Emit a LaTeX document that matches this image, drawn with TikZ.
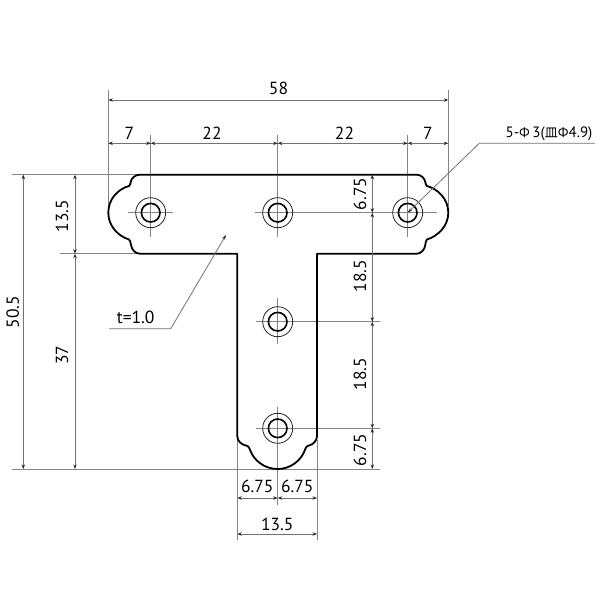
\documentclass[tikz,border=0pt]{standalone}
\usepackage{fontspec}
\setmainfont{PT Sans}
\newfontfamily\cjkfont{Noto Sans CJK SC}
\newfontfamily\phifont{Open Sans}
\usetikzlibrary{arrows.meta}
\tikzset{
  part/.style={line width=1.8pt,black,line join=round},
  bore/.style={line width=1.6pt,black},
  rim/.style={line width=0.8pt,black!85},
  guide/.style={line width=0.95pt,black!48},
  dimline/.style={line width=0.8pt,black!55,{Stealth[length=4.5pt,width=3.4pt,black!85]}-{Stealth[length=4.5pt,width=3.4pt,black!85]}},
  leader/.style={line width=0.8pt,black!55},
  lab/.style={inner sep=0pt,font=\fontsize{17.5}{17.5}\selectfont,text=black},
  vlab/.style={lab,rotate=90}
}
\begin{document}
\begin{tikzpicture}[x=1pt,y=-1pt]
\useasboundingbox (0,0) rectangle (600,600);
\fill[white] (0,0) rectangle (600,600);
% named reference points
\coordinate (hA) at (150.7,212.7);
\coordinate (hB) at (277.7,212.7);
\coordinate (hC) at (407.7,212.7);
\coordinate (hD) at (277.7,321.7);
\coordinate (hE) at (277.7,428.3);
% extension lines
\draw[guide] (108.3,90) -- (108.3,206);
\draw[guide] (448.3,90) -- (448.3,206);
\draw[guide] (11.7,174.7) -- (140,174.7);
\draw[guide] (60,253.7) -- (140,253.7);
\draw[guide] (11.7,469) -- (380,469);
\draw[guide] (237.3,440) -- (237.3,540);
\draw[guide] (317,440) -- (317,540);
% centre lines
\draw[guide] (150.7,135) -- (150.7,237);
\draw[guide] (128.3,212.7) -- (173,212.7);
\draw[guide] (277.7,135) -- (277.7,237);
\draw[guide] (255,212.7) -- (383,212.7);
\draw[guide] (407.7,135) -- (407.7,237);
\draw[guide] (383,212.7) -- (437,212.7);
\draw[guide] (277.7,298) -- (277.7,344);
\draw[guide] (256,321.7) -- (380,321.7);
\draw[guide] (277.7,406.7) -- (277.7,505);
\draw[guide] (256,428.3) -- (380,428.3);
% outline
\draw[part] (140,174.7) -- (416.7,174.7)
  .. controls (421,174.7) and (424.5,178) .. (425.3,182)
  .. controls (425.6,184) and (426,185) .. (427,186)
  .. controls (438,189) and (448.3,199) .. (448.3,212.7)
  .. controls (448.3,226) and (438,236) .. (427,239.5)
  .. controls (426,240.5) and (425.6,242) .. (425.3,245)
  .. controls (424.5,250) and (421,253.7) .. (416.7,253.7)
  -- (317,253.7) -- (317,436)
  .. controls (317,441) and (313,444.5) .. (309,445.5)
  .. controls (307,446) and (306,447) .. (305.5,448.5)
  .. controls (301.5,461) and (290,469) .. (277.7,469)
  .. controls (265,469) and (253.5,461) .. (249.5,448.5)
  .. controls (249,447) and (248,446) .. (246,445.5)
  .. controls (241,444.5) and (237.3,441) .. (237.3,436)
  -- (237.3,253.7) -- (140,253.7)
  .. controls (135.5,253.7) and (131.8,250) .. (131,245)
  .. controls (130.7,242) and (130,240.5) .. (129,239.5)
  .. controls (118,236) and (108.3,226) .. (108.3,212.7)
  .. controls (108.3,199) and (118,189) .. (129,186)
  .. controls (130,185) and (130.4,184) .. (130.7,182)
  .. controls (131.5,178) and (135,174.7) .. cycle;
% holes
\foreach \h in {hA,hB,hC,hD,hE}{
  \draw[rim] (\h) circle (15);
  \draw[bore] (\h) circle (9.3);
}
% dimensions: top
\draw[dimline] (108.3,100) -- (448.3,100);
\draw[dimline] (108.3,143.3) -- (150.7,143.3);
\draw[dimline] (150.7,143.3) -- (277.7,143.3);
\draw[dimline] (277.7,143.3) -- (407.7,143.3);
\draw[dimline] (407.7,143.3) -- (448.3,143.3);
% dimensions: left
\draw[dimline] (23.3,174.7) -- (23.3,469);
\draw[dimline] (75,174.7) -- (75,253.7);
\draw[dimline] (75,253.7) -- (75,469);
% dimensions: right
\draw[dimline] (372.3,174.7) -- (372.3,212.7);
\draw[dimline] (372.3,212.7) -- (372.3,321.7);
\draw[dimline] (372.3,321.7) -- (372.3,428.3);
\draw[dimline] (372.3,428.3) -- (372.3,469);
% dimensions: bottom
\draw[dimline] (237.3,498) -- (277.7,498);
\draw[dimline] (277.7,498) -- (317,498);
\draw[dimline] (237.3,534) -- (317,534);
% leaders
\coordinate (la) at (595,143.3);
\coordinate (lb) at (479.3,143.3);
\coordinate (ta) at (109,328.7);
\coordinate (tb) at (170.7,328.7);
\coordinate (tc) at (226,235);
\draw[leader,-{Stealth[length=5pt,width=3.2pt,black!85]}] (la) -- (lb) -- (hC);
\draw[leader,-{Stealth[length=5pt,width=3.2pt,black!85]}] (ta) -- (tb) -- (tc);
% labels
\node[lab] (d58) at (278.5,88) {58};
\node[lab] (d7a) at (129.5,133) {7};
\node[lab] (d22a) at (212,133) {22};
\node[lab] (d22b) at (344.5,133) {22};
\node[lab] (d7b) at (428,133) {7};
\node[lab,font=\fontsize{15}{15}\selectfont] (holes) at (549,134) {5-{\phifont\fontsize{13.5}{13.5}\selectfont Φ}\,3({\cjkfont\fontsize{13}{13}\selectfont 皿}{\phifont\fontsize{13.5}{13.5}\selectfont Φ}4.9)};
\node[vlab] (r1) at (360,194) {6.75};
\node[vlab] (r2) at (360,276) {18.5};
\node[vlab] (r3) at (360,374) {18.5};
\node[vlab] (r4) at (360,450) {6.75};
\node[vlab] (l1) at (62,216) {13.5};
\node[vlab] (l2) at (62,355) {37};
\node[vlab] (l3) at (12.7,312) {50.5};
\node[lab] (thick) at (135.7,317.7) {t=1.0};
\node[lab] (b1) at (257.3,486) {6.75};
\node[lab] (b2) at (297.3,486) {6.75};
\node[lab] (b3) at (277.3,524) {13.5};
\end{tikzpicture}
\end{document}
